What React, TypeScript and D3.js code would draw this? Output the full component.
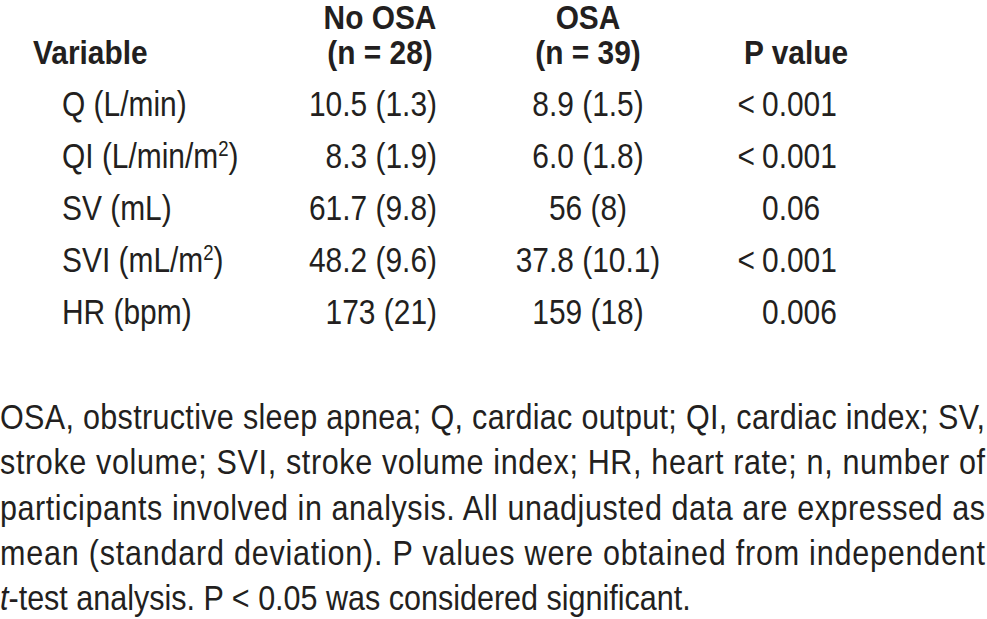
import React from "react";
import * as d3 from "d3";

const W = 987;
const H = 619;

const headerNoOsa = ["No OSA", "(n = 28)"];
const headerOsa = ["OSA", "(n = 39)"];
const headerVariable = "Variable";
const headerP = "P value";

const variables = ["Q (L/min)", "QI (L/min/m^2)", "SV (mL)", "SVI (mL/m^2)", "HR (bpm)"];
const noOsaValues = ["10.5 (1.3)", "8.3 (1.9)", "61.7 (9.8)", "48.2 (9.6)", "173 (21)"];
const osaValues = ["8.9 (1.5)", "6.0 (1.8)", "56 (8)", "37.8 (10.1)", "159 (18)"];
const pValues = ["< 0.001", "< 0.001", "0.06", "< 0.001", "0.006"];

const footnoteLines = [
  "OSA, obstructive sleep apnea; Q, cardiac output; QI, cardiac index; SV,",
  "stroke volume; SVI, stroke volume index; HR, heart rate; n, number of",
  "participants involved in analysis. All unadjusted data are expressed as",
  "mean (standard deviation). P values were obtained from independent",
  "*t*-test analysis. P < 0.05 was considered significant.",
];

const FONT = "'Liberation Sans', Arial, Helvetica, sans-serif";
const INK = "#231f20";

function renderSup(label: string) {
  const parts = label.split("^");
  if (parts.length === 1) return label;
  return [
    <tspan key="a">{parts[0]}</tspan>,
    <tspan key="b" fontSize="0.62em" dy={-12}>{parts[1][0]}</tspan>,
    <tspan key="c" dy={12}>{parts[1].slice(1)}</tspan>,
  ];
}

function renderItalic(line: string) {
  const m = line.match(/^\*(.+?)\*(.*)$/);
  if (!m) return line;
  return [
    <tspan key="i" fontStyle="italic">{m[1]}</tspan>,
    <tspan key="r">{m[2]}</tspan>,
  ];
}

function T(props: { x: number; y: number; sx: number; anchor?: string; children: any; extra?: any }) {
  const { x, y, sx, anchor = "start", children, extra = {} } = props;
  return (
    <text transform={`translate(${x},${y}) scale(${sx},1)`} textAnchor={anchor} {...extra}>
      {children}
    </text>
  );
}

export default function App() {
  const y = d3.scalePoint<string>().domain(variables).range([116, 324]);
  const fy = d3.scalePoint<string>().domain(footnoteLines).range([429, 610]);

  const SX_HEAD = 0.905;
  const SX_BODY = 0.855;
  const SX_FOOT = 0.885;

  const xLabel = 62;
  const xVarHead = 33;
  const xNoOsaRight = 437;
  const xNoOsaHead = 380;
  const xOsaCenter = 588;
  const xPNum = 762;
  const xPHead = 796;

  return (
    <div style={{ position: "absolute", left: 0, top: 0, width: W, height: H, background: "#fff" }}>
      <svg width={W} height={H} style={{ display: "block" }} fontFamily={FONT} fill={INK}>
        <rect width={W} height={H} fill="#fff" />
        <g fontWeight="bold" fontSize={33}>
          <T sx={SX_HEAD} x={xVarHead} y={64}>{headerVariable}</T>
          {headerNoOsa.map((t, i) => (
            <T sx={SX_HEAD} key={t} x={xNoOsaHead} y={29 + i * 35} anchor="middle">{t}</T>
          ))}
          {headerOsa.map((t, i) => (
            <T sx={SX_HEAD} key={t} x={xOsaCenter} y={29 + i * 35} anchor="middle">{t}</T>
          ))}
          <T sx={SX_HEAD} x={xPHead} y={64} anchor="middle">{headerP}</T>
        </g>
        <g fontSize={35}>
          {variables.map((v, i) => (
            <g key={v}>
              <T sx={SX_BODY} x={xLabel} y={y(v)!}>{renderSup(v)}</T>
              <T sx={SX_BODY} x={xNoOsaRight} y={y(v)!} anchor="end">{noOsaValues[i]}</T>
              <T sx={SX_BODY} x={xOsaCenter} y={y(v)!} anchor="middle">{osaValues[i]}</T>
              {pValues[i].startsWith("<") ? (
                <>
                  <T sx={SX_BODY} x={xPNum - 7} y={y(v)!} anchor="end">{"<"}</T>
                  <T sx={SX_BODY} x={xPNum} y={y(v)!}>{pValues[i].replace("<", "").trim()}</T>
                </>
              ) : (
                <T sx={SX_BODY} x={xPNum} y={y(v)!}>{pValues[i]}</T>
              )}
            </g>
          ))}
        </g>
        <g fontSize={34.5}>
          {footnoteLines.map((line, i) => {
            const last = i === footnoteLines.length - 1;
            return (
              <T
                sx={SX_FOOT}
                key={i}
                x={0}
                y={fy(line)!}
                extra={last ? {} : { textLength: 985 / SX_FOOT, lengthAdjust: "spacing" }}
              >
                {renderItalic(line)}
              </T>
            );
          })}
        </g>
      </svg>
    </div>
  );
}
